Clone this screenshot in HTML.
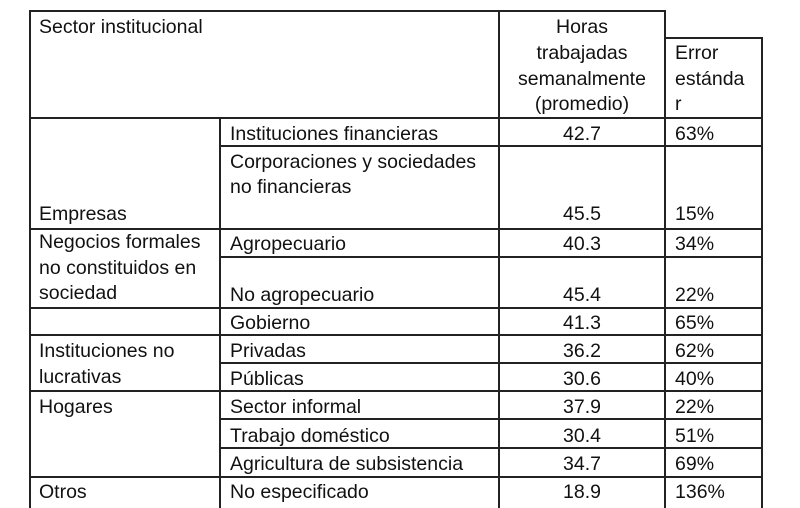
<!DOCTYPE html>
<html><head><meta charset="utf-8"><style>
html,body{margin:0;padding:0;background:#fff;}
svg{display:block}
text{font-family:"Liberation Sans",sans-serif;font-size:19.5px;fill:#111;}
</style></head><body>
<svg width="800" height="508" viewBox="0 0 800 508">
<g stroke="#222" stroke-width="2" fill="none">
<line x1="29" y1="11" x2="666" y2="11"/>
<line x1="665" y1="38" x2="763" y2="38"/>
<line x1="29" y1="118" x2="763" y2="118"/>
<line x1="219" y1="146" x2="763" y2="146"/>
<line x1="29" y1="229" x2="763" y2="229"/>
<line x1="219" y1="257" x2="763" y2="257"/>
<line x1="29" y1="308" x2="763" y2="308"/>
<line x1="29" y1="335" x2="763" y2="335"/>
<line x1="219" y1="363" x2="763" y2="363"/>
<line x1="29" y1="391" x2="763" y2="391"/>
<line x1="219" y1="419" x2="763" y2="419"/>
<line x1="219" y1="448" x2="763" y2="448"/>
<line x1="29" y1="477" x2="763" y2="477"/>
<line x1="30" y1="10" x2="30" y2="508"/>
<line x1="220" y1="118" x2="220" y2="508"/>
<line x1="499" y1="10" x2="499" y2="508"/>
<line x1="665" y1="10" x2="665" y2="508"/>
<line x1="762" y1="37" x2="762" y2="508"/>
</g>
<text x="39" y="33">Sector institucional</text>
<g text-anchor="middle">
<text x="582" y="33">Horas</text>
<text x="582" y="59">trabajadas</text>
<text x="582" y="85">semanalmente</text>
<text x="582" y="110">(promedio)</text>
<text x="582" y="140">42.7</text>
<text x="582" y="220">45.5</text>
<text x="582" y="250">40.3</text>
<text x="582" y="301">45.4</text>
<text x="582" y="329">41.3</text>
<text x="582" y="357">36.2</text>
<text x="582" y="385">30.6</text>
<text x="582" y="413">37.9</text>
<text x="582" y="442">30.4</text>
<text x="582" y="470">34.7</text>
<text x="582" y="498">18.9</text>
</g>
<text x="675" y="59">Error</text>
<text x="675" y="85">estánda</text>
<text x="675" y="110">r</text>
<text x="675" y="140">63%</text>
<text x="675" y="220">15%</text>
<text x="675" y="250">34%</text>
<text x="675" y="301">22%</text>
<text x="675" y="329">65%</text>
<text x="675" y="357">62%</text>
<text x="675" y="385">40%</text>
<text x="675" y="413">22%</text>
<text x="675" y="442">51%</text>
<text x="675" y="470">69%</text>
<text x="675" y="498">136%</text>
<text x="230" y="140">Instituciones financieras</text>
<text x="230" y="168">Corporaciones y sociedades</text>
<text x="230" y="193">no financieras</text>
<text x="230" y="250">Agropecuario</text>
<text x="230" y="301">No agropecuario</text>
<text x="230" y="329">Gobierno</text>
<text x="230" y="357">Privadas</text>
<text x="230" y="385">Públicas</text>
<text x="230" y="413">Sector informal</text>
<text x="230" y="442">Trabajo doméstico</text>
<text x="230" y="470">Agricultura de subsistencia</text>
<text x="230" y="498">No especificado</text>
<text x="39" y="220">Empresas</text>
<text x="39" y="248">Negocios formales</text>
<text x="39" y="274">no constituidos en</text>
<text x="39" y="299">sociedad</text>
<text x="39" y="357">Instituciones no</text>
<text x="39" y="383">lucrativas</text>
<text x="39" y="413">Hogares</text>
<text x="39" y="498">Otros</text>
</svg>
</body></html>
